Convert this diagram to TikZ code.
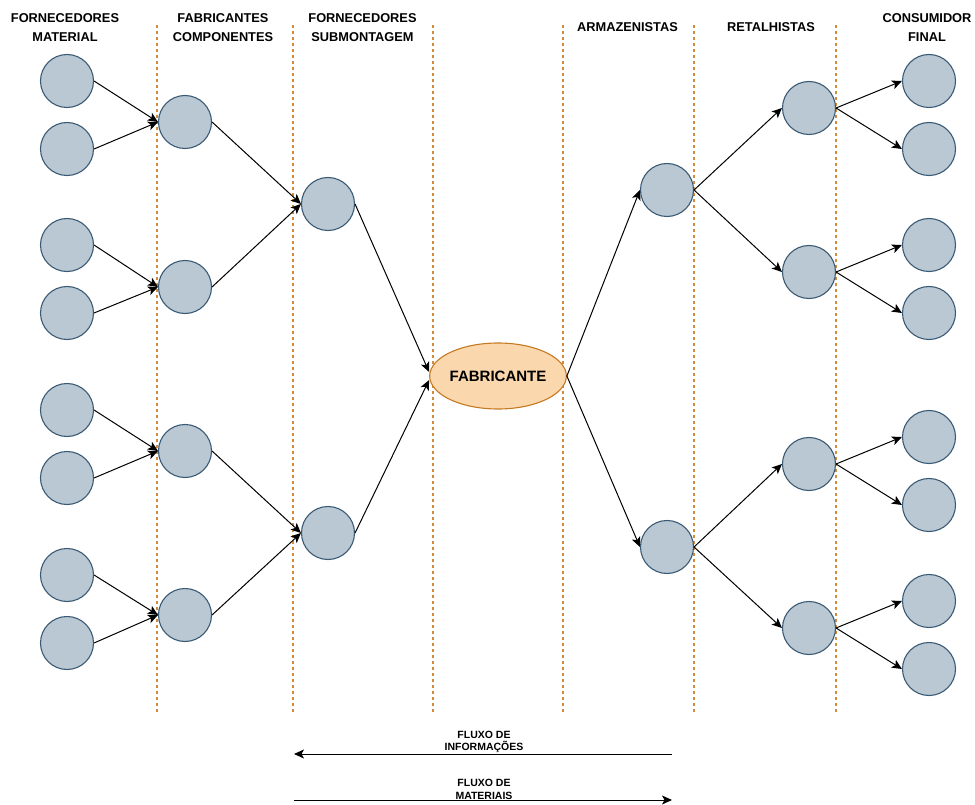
\documentclass[tikz,border=0pt]{standalone}
\usepackage{fontspec}
\setmainfont{Liberation Sans}
\usetikzlibrary{arrows.meta,shapes.geometric}
\definecolor{nodefill}{HTML}{BAC8D3}
\definecolor{nodeline}{HTML}{3A5A75}
\definecolor{fabfill}{HTML}{FAD7AC}
\definecolor{fabline}{HTML}{C47A20}
\definecolor{sepline}{HTML}{D08C3C}
\tikzset{
  elo/.style={circle,draw=nodeline,fill=nodefill,line width=1.1pt,minimum size=53pt,inner sep=0pt},
  fab/.style={ellipse,draw=fabline,fill=fabfill,line width=1.1pt,minimum width=130pt,minimum height=66pt,inner sep=0pt,font=\bfseries\fontsize{15}{18}\selectfont},
  head/.style={align=center,font=\bfseries\fontsize{12.8}{19}\selectfont},
  flowtext/.style={align=center,font=\bfseries\fontsize{10.5}{12.5}\selectfont},
  sep/.style={sepline,line width=1.1pt,dash pattern=on 3pt off 3pt},
  liga/.style={-{Stealth[length=10pt,width=9pt,inset=2.5pt]},line width=1pt,black},
}
\begin{document}
\begin{tikzpicture}[x=1pt,y=-1pt]
  \useasboundingbox (0,0) rectangle (975,805);
  % separadores
  \foreach \xs in {157,293,433,563,694,836}
    \draw[sep] (\xs,25) -- (\xs,712);
  % titulos
  \node[head] (h1) at (65,27.5) {FORNECEDORES\\MATERIAL};
  \node[head] (h2) at (223,27.5) {FABRICANTES\\COMPONENTES};
  \node[head] (h3) at (362.5,27.5) {FORNECEDORES\\SUBMONTAGEM};
  \node[head] (h4) at (627.5,27.5) {ARMAZENISTAS};
  \node[head] (h5) at (771,27.5) {RETALHISTAS};
  \node[head] (h6) at (927,27.5) {CONSUMIDOR\\FINAL};
  % fornecedores material
  \node[elo] (m1) at (67,81) {};
  \node[elo] (m2) at (67,149) {};
  \node[elo] (m3) at (67,245) {};
  \node[elo] (m4) at (67,313) {};
  \node[elo] (m5) at (67,410) {};
  \node[elo] (m6) at (67,478) {};
  \node[elo] (m7) at (67,575) {};
  \node[elo] (m8) at (67,643) {};
  % fabricantes componentes
  \node[elo] (c1) at (185,122) {};
  \node[elo] (c2) at (185,287) {};
  \node[elo] (c3) at (185,451) {};
  \node[elo] (c4) at (185,615) {};
  % submontagem
  \node[elo] (s1) at (328,204) {};
  \node[elo] (s2) at (328,533) {};
  % fabricante
  \node[fab] (fab) at (498,376) {FABRICANTE};
  % armazenistas
  \node[elo] (a1) at (667,190) {};
  \node[elo] (a2) at (667,547) {};
  % retalhistas
  \node[elo] (r1) at (809,108) {};
  \node[elo] (r2) at (809,272) {};
  \node[elo] (r3) at (809,464) {};
  \node[elo] (r4) at (809,628) {};
  % consumidor final
  \node[elo] (f1) at (929,81) {};
  \node[elo] (f2) at (929,149) {};
  \node[elo] (f3) at (929,245) {};
  \node[elo] (f4) at (929,313) {};
  \node[elo] (f5) at (929,437) {};
  \node[elo] (f6) at (929,505) {};
  \node[elo] (f7) at (929,601) {};
  \node[elo] (f8) at (929,669) {};
  % ligacoes
  \draw[liga] (m1.east) -- (c1.west);
  \draw[liga] (m2.east) -- (c1.west);
  \draw[liga] (m3.east) -- (c2.west);
  \draw[liga] (m4.east) -- (c2.west);
  \draw[liga] (m5.east) -- (c3.west);
  \draw[liga] (m6.east) -- (c3.west);
  \draw[liga] (m7.east) -- (c4.west);
  \draw[liga] (m8.east) -- (c4.west);
  \draw[liga] (c1.east) -- (s1.west);
  \draw[liga] (c2.east) -- (s1.west);
  \draw[liga] (c3.east) -- (s2.west);
  \draw[liga] (c4.east) -- (s2.west);
  \draw[liga] (s1.east) -- ([yshift=4pt]fab.west);
  \draw[liga] (s2.east) -- ([yshift=-4pt]fab.west);
  \draw[liga] (fab.east) -- (a1.west);
  \draw[liga] (fab.east) -- (a2.west);
  \draw[liga] (a1.east) -- (r1.west);
  \draw[liga] (a1.east) -- (r2.west);
  \draw[liga] (a2.east) -- (r3.west);
  \draw[liga] (a2.east) -- (r4.west);
  \draw[liga] (r1.east) -- (f1.west);
  \draw[liga] (r1.east) -- (f2.west);
  \draw[liga] (r2.east) -- (f3.west);
  \draw[liga] (r2.east) -- (f4.west);
  \draw[liga] (r3.east) -- (f5.west);
  \draw[liga] (r3.east) -- (f6.west);
  \draw[liga] (r4.east) -- (f7.west);
  \draw[liga] (r4.east) -- (f8.west);
  % fluxos
  \node[flowtext] (info) at (484,742) {FLUXO DE\\INFORMAÇÕES};
  \node[flowtext] (mat) at (484,789.5) {FLUXO DE\\MATERIAIS};
  \coordinate (infoR) at (672,754);
  \coordinate (infoL) at (294,754);
  \coordinate (matL) at (294,800);
  \coordinate (matR) at (672,800);
  \draw[liga] (infoR) -- (infoL);
  \draw[liga] (matL) -- (matR);
\end{tikzpicture}
\end{document}
